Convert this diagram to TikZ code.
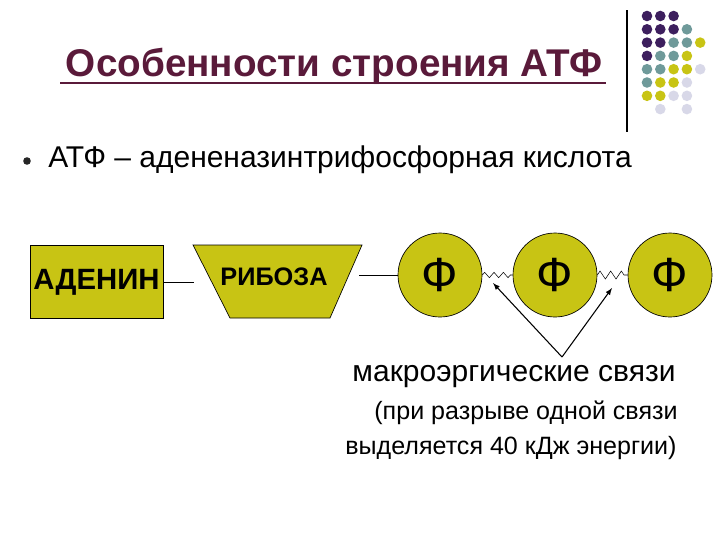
\documentclass[tikz,border=0pt]{standalone}
\usepackage{fontspec}
\setmainfont{Liberation Sans}
\usetikzlibrary{decorations.pathmorphing}
\definecolor{ol}{HTML}{C8C414}
\definecolor{pu}{HTML}{3D1F5E}
\definecolor{te}{HTML}{6F9A9A}
\definecolor{la}{HTML}{D8D8E8}
\definecolor{ti}{HTML}{5A1A3A}
\begin{document}
\begin{tikzpicture}[x=0.75pt,y=-0.75pt,
  shp/.style={fill=ol,draw=black,line width=0.5pt},
  ph/.style={circle,shp,minimum size=63pt,inner sep=0pt,font=\fontsize{36}{36}\selectfont},
  txt/.style={inner sep=0pt,font=\fontsize{22.5}{26}\selectfont}]
\useasboundingbox[fill=white] (0,0) rectangle (720,540);
\draw[line width=0.8pt] (627,10) -- (627,132);
\foreach \r/\row in {0/{pu,pu,pu,,},1/{pu,pu,pu,te,},2/{pu,pu,te,te,ol},3/{pu,te,te,ol,},4/{te,te,ol,ol,la},5/{te,ol,ol,la,},6/{ol,ol,la,la,},7/{,la,,la,}}{
  \foreach \c [count=\i from 0] in \row {
    \ifx\c\empty\else\fill[\c] (647+13.3*\i,16+13.3*\r) circle (5.3);\fi
  }}
\node[txt,text=ti,font=\bfseries\fontsize{29}{32}\selectfont] (title) at (334,66) {Особенности строения АТФ};
\draw[ti,line width=1pt] (60,83) -- (606,83);
\fill[black!85] (27,161) circle (3.8);
\node[txt,anchor=west,font=\fontsize{22.5}{26}\selectfont] (def) at (48,160) {АТФ – адененазинтрифосфорная кислота};
\node[shp,rectangle,minimum width=100pt,minimum height=55pt,inner sep=0pt,font=\bfseries\fontsize{22}{24}\selectfont] (ad) at (96.5,282) {АДЕНИН};
\draw[shp] (193,245) -- (362,245) -- (330,318) -- (230,318) -- cycle;
\node[txt,font=\bfseries\fontsize{19}{22}\selectfont] (rib) at (274,277) {РИБОЗА};
\coordinate (rl) at (194,282); \coordinate (rr) at (359,275);
\draw (ad.east) -- (rl);
\node[ph] (p1) at (440,275) {Ф};
\node[ph] (p2) at (555,275) {Ф};
\node[ph] (p3) at (670,275) {Ф};
\draw (rr) -- (p1.west);
\draw[decorate,decoration={zigzag,amplitude=2pt,segment length=7pt}] (p1.east) -- (p2.west);
\draw[decorate,decoration={zigzag,amplitude=3pt,segment length=8pt}] (p2.east) -- (p3.west);
\node[txt] (mk) at (514,377) {макроэргические связи};
\node[txt,font=\fontsize{18.8}{22}\selectfont] (l1) at (526,413) {(при разрыве одной связи};
\node[txt,font=\fontsize{18.8}{22}\selectfont] (l2) at (511,448) {выделяется 40 кДж энергии)};
\coordinate (ap) at (562,357);
\coordinate (a1) at (493,283);
\coordinate (a2) at (612,288);
\draw[-latex,line width=0.8pt] (ap) -- (a1);
\draw[-latex,line width=0.8pt] (ap) -- (a2);
\end{tikzpicture}
\end{document}
